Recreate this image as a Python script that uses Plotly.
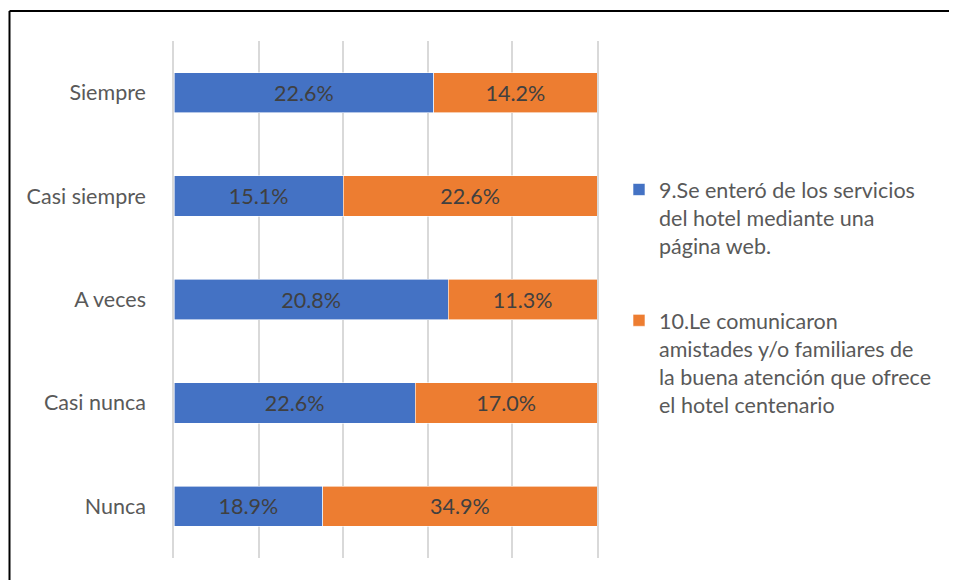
import plotly.graph_objects as go

categories = ["Siempre", "Casi siempre", "A veces", "Casi nunca", "Nunca"]
serie9 = [22.6, 15.1, 20.8, 22.6, 18.9]
serie10 = [14.2, 22.6, 11.3, 17.0, 34.9]
name9 = "9.Se enteró de los servicios<br>del hotel mediante una<br>página web."
name10 = "10.Le comunicaron<br>amistades y/o familiares de<br>la buena atención que ofrece<br>el hotel centenario"

FONT = "Lato, 'Open Sans', sans-serif"
FS = 21.5
OFF = 8  # page body margin
W, H = 957, 580
L, T = 174 - OFF, 41 - OFF
R = W - (597 - OFF)
B = H - (558 - OFF)
pw, ph = W - L - R, H - T - B

def px(x):
    return (x - OFF - L) / pw

def py(y):
    return 1 - (y - OFF - T) / ph

fig = go.Figure()
fig.add_trace(go.Bar(
    y=categories, x=serie9, orientation="h", name=name9,
    marker=dict(color="#4472C4", line=dict(width=0.6, color="white")),
    text=[f"{v:.1f}%" for v in serie9], textposition="inside",
    insidetextanchor="middle", textfont=dict(color="#404040", size=FS, family=FONT),
    legendgroup="a",
))
fig.add_trace(go.Bar(
    y=categories, x=serie10, orientation="h", name=name10,
    marker=dict(color="#ED7D31", line=dict(width=0.6, color="white")),
    text=[f"{v:.1f}%" for v in serie10], textposition="inside",
    insidetextanchor="middle", textfont=dict(color="#404040", size=FS, family=FONT),
    legendgroup="b",
))

fig.update_layout(
    width=W, height=H,
    barmode="stack", barnorm="percent", bargap=0.61,
    margin=dict(l=L, r=R, t=T, b=B, autoexpand=False),
    paper_bgcolor="white", plot_bgcolor="white",
    font=dict(family=FONT, size=FS, color="#595959"),
    uniformtext=dict(minsize=18, mode="show"),
    xaxis=dict(range=[0, 100], dtick=20, showgrid=True, gridcolor="#d9d9d9",
               gridwidth=1.5, zeroline=False, showticklabels=False, fixedrange=True),
    yaxis=dict(autorange="reversed", showgrid=False, ticks="", ticklabelstandoff=22,
               showline=True, linecolor="#d9d9d9", linewidth=1.5, mirror=True,
               tickfont=dict(size=FS, color="#595959", family=FONT)),
    legend=dict(x=px(619), xanchor="left", y=py(297), yanchor="middle",
                traceorder="grouped", tracegroupgap=44, valign="top",
                font=dict(size=FS, color="#595959", family=FONT),
                itemwidth=30, bgcolor="rgba(0,0,0,0)"),
    showlegend=True,
)

fig.add_shape(type="line", xref="paper", yref="paper",
              x0=px(9.5), x1=px(975), y0=py(11), y1=py(11),
              line=dict(color="black", width=2))
fig.add_shape(type="line", xref="paper", yref="paper",
              x0=px(9.5), x1=px(9.5), y0=py(11), y1=py(600),
              line=dict(color="black", width=2))

fig.write_html("out.html")
